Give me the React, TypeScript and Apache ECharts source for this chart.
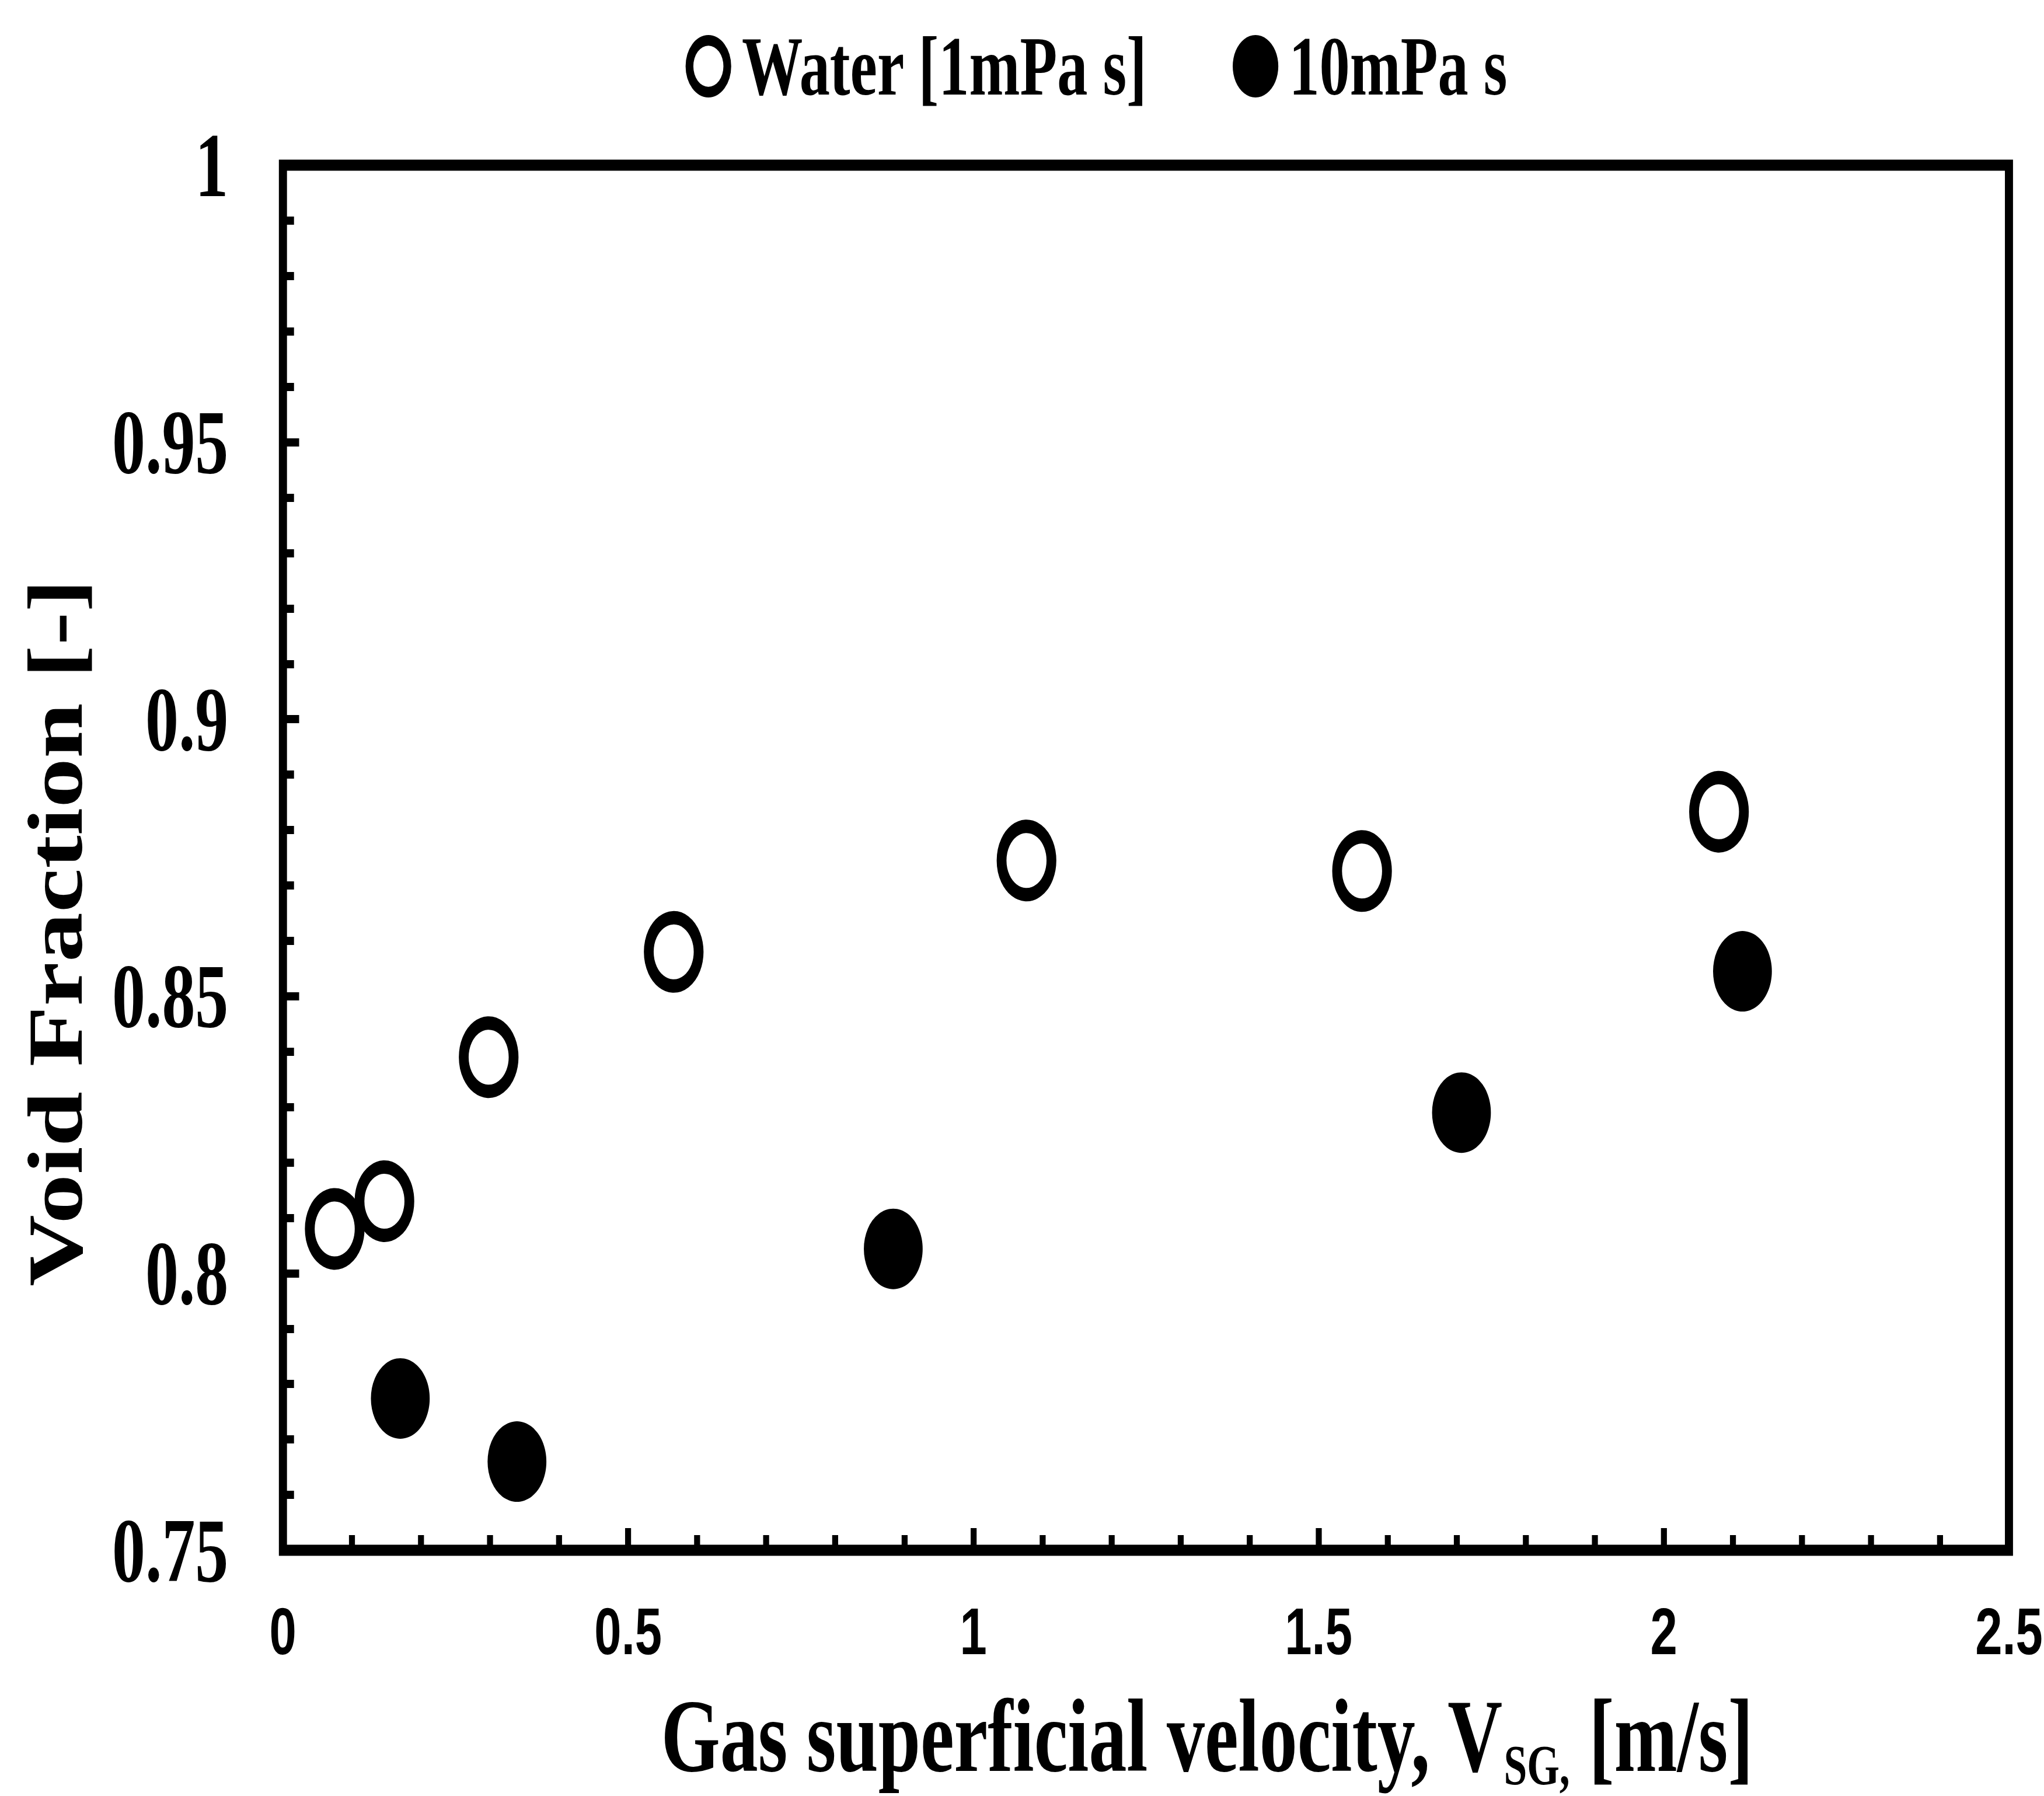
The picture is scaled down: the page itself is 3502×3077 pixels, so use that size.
import React, { useEffect, useRef } from "react";
import * as echarts from "echarts";

// ---- data ----
const waterName = "Water [1mPa s]";
const viscName = "10mPa s";
const waterX = [0.075, 0.147, 0.298, 0.566, 1.077, 1.563, 2.08];
const waterY = [0.808, 0.813, 0.839, 0.858, 0.8745, 0.8726, 0.8833];
const viscX = [0.17, 0.339, 0.884, 1.707, 2.114];
const viscY = [0.7774, 0.766, 0.8044, 0.829, 0.8545];
const xTicks = { min: 0, max: 2.5, interval: 0.5 };
const yTicks = { min: 0.75, max: 1, interval: 0.05 };
const xTitleMain = "Gas superficial velocity, V";
const xTitleSub = "SG,";
const xTitleEnd = " [m/s]";
const yTitle = "Void Fraction [-]";

// the reference is horizontally condensed; draw wider and squeeze
const OUT_W = 3502;
const OUT_H = 3077;
const W = 4797;
const SX = OUT_W / W;

const SERIF = '"Liberation Serif", "Times New Roman", serif';
const SANS = '"Liberation Sans", Arial, sans-serif';

const MAIN_FONT = `bold 178px ${SERIF}`;
const SUB_FONT = `bold 98px ${SERIF}`;

const ringIcon =
  "path://M50,0A50,50,0,1,1,50,100A50,50,0,1,1,50,0ZM50,17A33,33,0,1,0,50,83A33,33,0,1,0,50,17Z";

function measure(text: string, font: string, fallbackEm: number, size: number): number {
  try {
    const c = document.createElement("canvas");
    const ctx = c.getContext("2d");
    if (ctx) {
      ctx.font = font;
      return ctx.measureText(text).width;
    }
  } catch (e) {
    /* ignore */
  }
  return fallbackEm * size;
}

export default function App() {
  const ref = useRef<HTMLDivElement>(null);

  useEffect(() => {
    if (!ref.current) return;
    const chart = echarts.init(ref.current, undefined, { renderer: "svg" });
    const zip = (xs: number[], ys: number[]) => xs.map((x, i) => [x, ys[i]]);

    const w1 = measure(xTitleMain, MAIN_FONT, 11.17, 178);
    const w2 = measure(xTitleSub, SUB_FONT, 1.58, 98);
    const w3 = measure(xTitleEnd, MAIN_FONT, 2.42, 178);
    const titleCenter = 2833;
    const x0 = titleCenter - (w1 + w2 + w3) / 2;
    const mainY = 2974;
    const subY = 3024;

    chart.setOption({
      animation: false,
      backgroundColor: "#ffffff",
      grid: {
        left: 664,
        right: 78,
        top: 283,
        bottom: 421,
        show: true,
        borderColor: "#000",
        borderWidth: 19,
        backgroundColor: "transparent",
      },
      legend: {
        left: 1604,
        top: 37,
        itemWidth: 107,
        itemHeight: 107,
        itemGap: 199,
        selectedMode: false,
        textStyle: {
          fontFamily: SERIF,
          fontWeight: "bold",
          fontSize: 143,
          color: "#000",
          padding: [0, 0, 0, 20],
        },
        data: [
          { name: waterName, icon: ringIcon, itemStyle: { color: "#000", borderWidth: 0 } },
          { name: viscName, icon: "circle", itemStyle: { color: "#000", borderWidth: 0 } },
        ],
      },
      xAxis: {
        type: "value",
        min: xTicks.min,
        max: xTicks.max,
        interval: xTicks.interval,
        axisLine: { show: false },
        splitLine: { show: false },
        axisTick: { show: true, inside: true, length: 38, lineStyle: { color: "#000", width: 14 } },
        minorTick: { show: true, splitNumber: 5, length: 26, lineStyle: { color: "#000", width: 14 } },
        minorSplitLine: { show: false },
        axisLabel: {
          margin: 82,
          fontFamily: SANS,
          fontWeight: "bold",
          fontSize: 114,
          color: "#000",
        },
      },
      yAxis: {
        type: "value",
        min: yTicks.min,
        max: yTicks.max,
        interval: yTicks.interval,
        axisLine: { show: false },
        splitLine: { show: false },
        axisTick: { show: true, inside: true, length: 38, lineStyle: { color: "#000", width: 14 } },
        minorTick: { show: true, splitNumber: 5, length: 26, lineStyle: { color: "#000", width: 14 } },
        minorSplitLine: { show: false },
        axisLabel: {
          margin: 128,
          fontFamily: SERIF,
          fontWeight: "bold",
          fontSize: 156,
          color: "#000",
        },
      },
      graphic: [
        {
          type: "text",
          x: x0,
          y: mainY,
          style: {
            text: xTitleMain,
            font: MAIN_FONT,
            align: "left",
            verticalAlign: "middle",
            fill: "#000",
          },
        },
        {
          type: "text",
          x: x0 + w1,
          y: subY,
          style: {
            text: xTitleSub,
            font: SUB_FONT,
            align: "left",
            verticalAlign: "middle",
            fill: "#000",
          },
        },
        {
          type: "text",
          x: x0 + w1 + w2,
          y: mainY,
          style: {
            text: xTitleEnd,
            font: MAIN_FONT,
            align: "left",
            verticalAlign: "middle",
            fill: "#000",
          },
        },
        {
          type: "text",
          x: 130,
          y: 1598,
          rotation: Math.PI / 2,
          scaleY: 1.08,
          style: {
            text: yTitle,
            font: `bold 170px ${SERIF}`,
            align: "center",
            verticalAlign: "middle",
            fill: "#000",
          },
        },
      ],
      series: [
        {
          name: waterName,
          type: "scatter",
          symbol: "circle",
          symbolSize: 117,
          itemStyle: { color: "#fff", borderColor: "#000", borderWidth: 23, opacity: 1 },
          data: zip(waterX, waterY),
          z: 3,
        },
        {
          name: viscName,
          type: "scatter",
          symbol: "circle",
          symbolSize: 138,
          itemStyle: { color: "#000", opacity: 1 },
          data: zip(viscX, viscY),
          z: 3,
        },
      ],
    });
    return () => chart.dispose();
  }, []);

  return (
    <div
      style={{
        position: "absolute",
        left: 0,
        top: 0,
        width: OUT_W,
        height: OUT_H,
        overflow: "hidden",
        background: "#fff",
      }}
    >
      <div
        ref={ref}
        style={{
          width: W,
          height: OUT_H,
          transform: `scaleX(${SX})`,
          transformOrigin: "0 0",
        }}
      />
    </div>
  );
}
